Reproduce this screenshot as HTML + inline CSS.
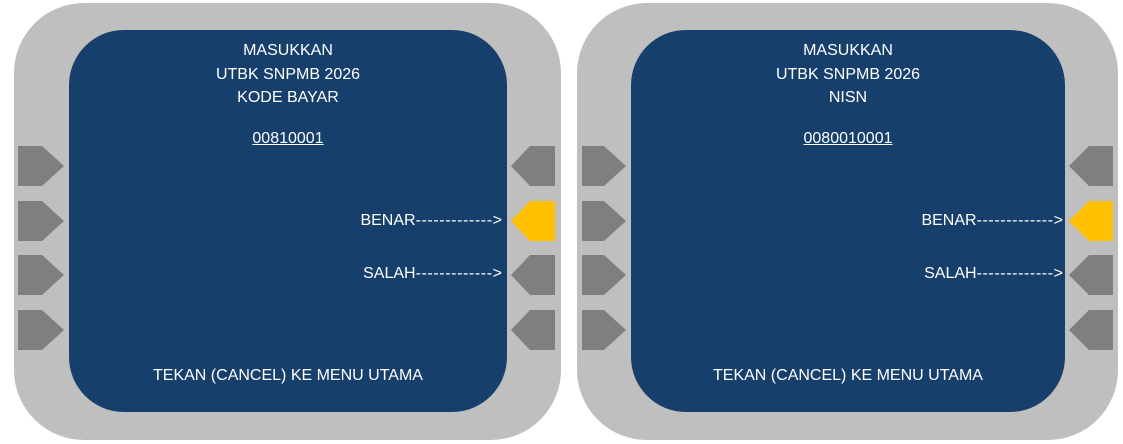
<!DOCTYPE html>
<html><head><style>
html,body{margin:0;padding:0;background:#fff;width:1123px;height:444px;overflow:hidden;font-family:"Liberation Sans",sans-serif;}
.o{position:absolute;background:#bfbfbf;border-radius:70px;}
.b{position:absolute;background:#173f6b;border-radius:55px;}
.t{position:absolute;color:#fff;font-size:16px;white-space:nowrap;line-height:18px;}
.c{text-align:center;width:300px;}
.r{text-align:right;width:200px;}
.d{letter-spacing:0.6px;}
svg{position:absolute;left:0;top:0;}
</style></head><body>
<div class="o" style="left:14px;top:3px;width:547px;height:437px;"></div>
<div class="b" style="left:69px;top:30px;width:438px;height:382px;"></div>
<div class="o" style="left:577px;top:3px;width:541px;height:437px;"></div>
<div class="b" style="left:631px;top:30px;width:434px;height:382px;"></div>
<svg width="1123" height="444">
<g fill="#7f7f7f">
<polygon points="18,146 42,146 64,166 42,186 18,186"/>
<polygon points="18,201 42,201 64,221 42,241 18,241"/>
<polygon points="18,255 42,255 64,275 42,295 18,295"/>
<polygon points="18,310 42,310 64,330 42,350 18,350"/>
<polygon points="555,146 530,146 511,166 530,186 555,186"/>
<polygon points="555,255 530,255 511,275 530,295 555,295"/>
<polygon points="555,310 530,310 511,330 530,350 555,350"/>
<polygon points="582,146 604,146 626,166 604,186 582,186"/>
<polygon points="582,201 604,201 626,221 604,241 582,241"/>
<polygon points="582,255 604,255 626,275 604,295 582,295"/>
<polygon points="582,310 604,310 626,330 604,350 582,350"/>
<polygon points="1113,146 1089,146 1069,166 1089,186 1113,186"/>
<polygon points="1113,255 1089,255 1069,275 1089,295 1113,295"/>
<polygon points="1113,310 1089,310 1069,330 1089,350 1113,350"/>
</g>
<polygon fill="#ffc000" points="555,201 530,201 511,221 530,241 555,241"/>
<polygon fill="#ffc000" points="1113,201 1089,201 1069,221 1089,241 1113,241"/>
</svg>
<div class="t c" style="left:138px;top:39px;line-height:23.5px;">MASUKKAN<br>UTBK SNPMB 2026<br>KODE BAYAR</div>
<div class="t c" style="left:138px;top:130px;text-decoration:underline;">00810001</div>
<div class="t r" style="left:302px;top:212px;">BENAR<span class="d">-------------</span>&gt;</div>
<div class="t r" style="left:302px;top:265px;">SALAH<span class="d">-------------</span>&gt;</div>
<div class="t c" style="left:138px;top:367px;">TEKAN (CANCEL) KE MENU UTAMA</div>
<div class="t c" style="left:698px;top:39px;line-height:23.5px;">MASUKKAN<br>UTBK SNPMB 2026<br>NISN</div>
<div class="t c" style="left:698px;top:130px;text-decoration:underline;">0080010001</div>
<div class="t r" style="left:863px;top:212px;">BENAR<span class="d">-------------</span>&gt;</div>
<div class="t r" style="left:863px;top:265px;">SALAH<span class="d">-------------</span>&gt;</div>
<div class="t c" style="left:698px;top:367px;">TEKAN (CANCEL) KE MENU UTAMA</div>
</body></html>
